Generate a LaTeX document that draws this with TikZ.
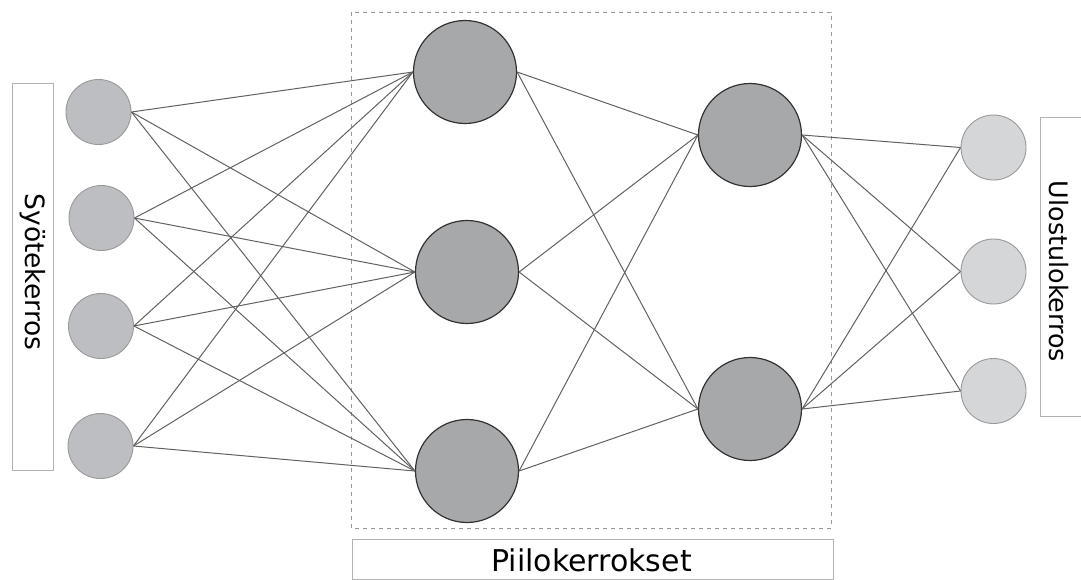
\documentclass[tikz,border=0pt]{standalone}
\usepackage{fontspec}
\setmainfont{DejaVu Sans}
\definecolor{infill}{HTML}{BDBEC1}
\definecolor{hidfill}{HTML}{A7A8AA}
\definecolor{outfill}{HTML}{D5D6D8}
\begin{document}
\begin{tikzpicture}[x=1pt,y=-1pt,
  inp/.style={circle,draw=black!40,fill=infill,line width=0.9pt,minimum size=65pt,inner sep=0pt},
  hid/.style={circle,draw=black!80,fill=hidfill,line width=1.2pt,minimum size=103pt,inner sep=0pt},
  outp/.style={circle,draw=black!40,fill=outfill,line width=0.9pt,minimum size=65pt,inner sep=0pt},
  conn/.style={draw=black!62,line width=1pt},
  lbox/.style={draw=black!30,line width=1pt,fill=white}]
\useasboundingbox (0,0) rectangle (1081,579);
% label boxes
\node[lbox,minimum width=41pt,minimum height=387pt,inner sep=0pt] (ibox) at (32.5,276.5) {};
\node[rotate=-90,font=\fontsize{26.5}{30}\selectfont] (itext) at (33,272) {Syötekerros};
\node[lbox,minimum width=50pt,minimum height=299pt,inner sep=0pt] (obox) at (1065,266.5) {};
\node[rotate=-90,font=\fontsize{25.4}{30}\selectfont] (otext) at (1059,271.5) {Ulostulokerros};
\draw[black!40,line width=0.8pt,dash pattern=on 4pt off 4pt] (351,12) rectangle (831,528);
\node[lbox,minimum width=481pt,minimum height=40pt,inner sep=0pt] (hbox) at (592.5,559) {};
\node[font=\fontsize{30}{34}\selectfont] (htext) at (591.5,560) {Piilokerrokset};
% neurons
\node[inp] (i1) at (98.5,112) {};
\node[inp] (i2) at (101.5,218) {};
\node[inp] (i3) at (101,326) {};
\node[inp] (i4) at (100.5,446) {};
\node[hid] (h1) at (465,72) {};
\node[hid] (h2) at (467,272) {};
\node[hid] (h3) at (467,471) {};
\node[hid] (g1) at (750,135) {};
\node[hid] (g2) at (750,409) {};
\node[outp] (o1) at (993.5,147.5) {};
\node[outp] (o2) at (993.5,271.5) {};
\node[outp] (o3) at (993.5,391) {};
% connections
\foreach \a in {i1,i2,i3,i4}{\foreach \b in {h1,h2,h3}{\draw[conn] (\a.east) -- (\b.west);}}
\foreach \a in {h1,h2,h3}{\foreach \b in {g1,g2}{\draw[conn] (\a.east) -- (\b.west);}}
\foreach \a in {g1,g2}{\foreach \b in {o1,o2,o3}{\draw[conn] (\a.east) -- (\b.west);}}
\end{tikzpicture}
\end{document}
